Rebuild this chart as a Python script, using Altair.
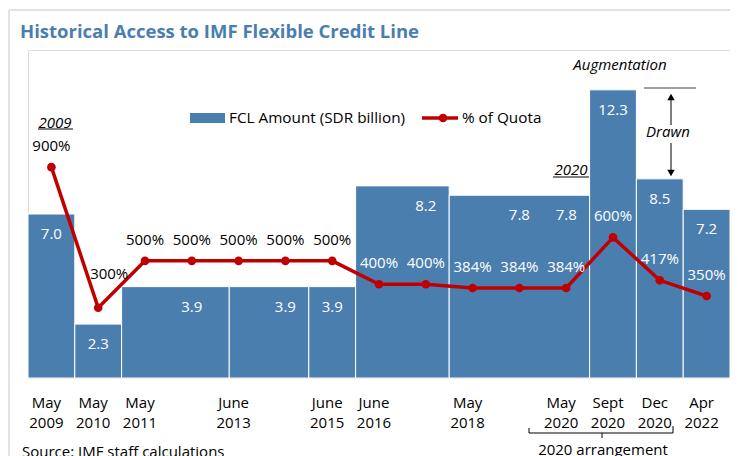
import altair as alt
import pandas as pd

# ---------------- data ----------------
bar_start = [-0.5, 0.5, 1.5, 3.8, 5.5, 6.5, 8.5, 11.5, 12.5, 13.5]
bar_end = [0.5, 1.5, 3.8, 5.5, 6.5, 8.5, 11.5, 12.5, 13.5, 14.5]
bar_amount = [7.0, 2.3, 3.9, 3.9, 3.9, 8.2, 7.8, 12.3, 8.5, 7.2]

amt_label_slot = [0, 1, 3, 5, 6, 8, 10, 11, 12, 13, 14]
amt_label_value = [7.0, 2.3, 3.9, 3.9, 3.9, 8.2, 7.8, 7.8, 12.3, 8.5, 7.2]

quota_slot = list(range(15))
quota_pct = [900, 300, 500, 500, 500, 500, 500, 400, 400, 384, 384, 384, 600, 417, 350]

x_label_slots = [0, 1, 2, 4, 6, 7, 9, 11, 12, 13, 14]
x_labels = ["May\n2009", "May\n2010", "May\n2011", "June\n2013", "June\n2015",
            "June\n2016", "May\n2018", "May\n2020", "Sept\n2020", "Dec\n2020", "Apr\n2022"]

FONT = "Open Sans"
BLUE = "#4A7EAF"
RED = "#C00000"

bars = pd.DataFrame({"start": bar_start, "end": bar_end, "amount": bar_amount})
amt_labels = pd.DataFrame({"slot": amt_label_slot, "amount": amt_label_value})


def amount_at(s):
    for a, b, v in zip(bar_start, bar_end, bar_amount):
        if a <= s < b:
            return v
    return 0


quota = pd.DataFrame({"slot": quota_slot, "pct": quota_pct})
quota["val"] = quota["pct"] / 100
quota["label"] = quota["pct"].astype(str) + "%"
quota["inside"] = [(p / 100 + 0.9) < amount_at(s) for s, p in zip(quota_slot, quota_pct)]
quota["special"] = quota["pct"].eq(300) & quota["slot"].eq(1)

xlab = pd.DataFrame({"slot": x_label_slots, "label": x_labels})

xs = alt.Scale(domain=[-0.5, 14.5], nice=False, zero=False)
ys = alt.Scale(domain=[0, 14], nice=False)

bar_layer = alt.Chart(bars).mark_rect(color=BLUE, stroke="white", strokeWidth=1).encode(
    x=alt.X("start:Q", scale=xs, axis=None),
    x2="end:Q",
    y=alt.Y("amount:Q", scale=ys, axis=None),
    y2=alt.datum(0),
)

bar_text = alt.Chart(amt_labels).mark_text(
    font=FONT, fontSize=15, color="white", dy=20, baseline="middle"
).encode(
    x=alt.X("slot:Q", scale=xs, axis=None),
    y=alt.Y("amount:Q", scale=ys, axis=None),
    text=alt.Text("amount:Q", format=".1f"),
)

line_layer = alt.Chart(quota).mark_line(color=RED, strokeWidth=3.5).encode(
    x=alt.X("slot:Q", scale=xs, axis=None),
    y=alt.Y("val:Q", scale=ys, axis=None),
)
point_layer = alt.Chart(quota).mark_circle(color=RED, opacity=1, size=75).encode(
    x=alt.X("slot:Q", scale=xs, axis=None),
    y=alt.Y("val:Q", scale=ys, axis=None),
)

q_text = alt.Chart(quota).transform_filter("!datum.special").mark_text(
    font=FONT, fontSize=15, dy=-21, baseline="middle"
).encode(
    x=alt.X("slot:Q", scale=xs, axis=None),
    y=alt.Y("val:Q", scale=ys, axis=None),
    text="label:N",
    color=alt.Color("inside:N", scale=alt.Scale(domain=[True, False], range=["white", "black"]), legend=None),
)
q_text_special = alt.Chart(quota).transform_filter("datum.special").mark_text(
    font=FONT, fontSize=15, dy=-34, dx=11, baseline="middle", color="black"
).encode(
    x=alt.X("slot:Q", scale=xs, axis=None),
    y=alt.Y("val:Q", scale=ys, axis=None),
    text="label:N",
)

x_text = alt.Chart(xlab).mark_text(
    font=FONT, fontSize=15, lineBreak="\n", lineHeight=20, baseline="middle", dx=-5, color="black"
).encode(
    x=alt.X("slot:Q", scale=xs, axis=None),
    y=alt.value(353),
    text="label:N",
)

# ---------------- decorations (pixel positions) ----------------
one = pd.DataFrame({"a": [0]})


def txt(t, x, y, **kw):
    params = dict(font=FONT, fontSize=15, baseline="middle", align="center", color="black")
    params.update(kw)
    return alt.Chart(one).mark_text(text=t, **params).encode(x=alt.value(x), y=alt.value(y))


def rule(x, x2, y, y2, color="black", w=1.0):
    return alt.Chart(one).mark_rule(color=color, strokeWidth=w).encode(
        x=alt.value(x), x2=alt.value(x2), y=alt.value(y), y2=alt.value(y2)
    )


def tri(x, y, shape):
    return alt.Chart(one).mark_point(shape=shape, filled=True, color="black", size=55, opacity=1).encode(
        x=alt.value(x), y=alt.value(y)
    )


deco = [
    rule(-19, -19, -40, 420, color="#D9D9D9", w=1.5),
    rule(-19, 720, -40, -40, color="#D9D9D9", w=1.5),
    txt("Historical Access to IMF Flexible Credit Line", -8, -18, align="left",
        fontWeight="bold", fontSize=18.5, color=BLUE),
    # legend
    alt.Chart(one).mark_rect(color=BLUE).encode(
        x=alt.value(162), x2=alt.value(197), y=alt.value(63), y2=alt.value(73)),
    txt("FCL Amount (SDR billion)", 201, 68, align="left", fontSize=15.3),
    rule(394, 430, 68, 68, color=RED, w=3.5),
    alt.Chart(one).mark_circle(color=RED, opacity=1, size=75).encode(x=alt.value(415), y=alt.value(68)),
    txt("% of Quota", 434, 68, align="left", fontSize=15.3),
    # 2009 / 2020 annotations
    txt("2009", 27, 73, fontStyle="italic"),
    rule(10, 45, 79, 79, w=1),
    txt("2020", 543, 120, fontStyle="italic"),
    rule(525, 561, 127, 127, w=1),
    # augmentation / drawn
    txt("Augmentation", 592, 15, fontStyle="italic"),
    rule(616, 668, 38, 38, color="#7F7F7F", w=1.5),
    rule(643, 643, 50, 75, w=1),
    tri(643, 47, "triangle-up"),
    txt("Drawn", 640, 82, fontStyle="italic"),
    rule(643, 643, 93, 120, w=1),
    tri(643, 123, "triangle-down"),
    # bracket
    rule(501, 645, 383, 383, w=1),
    rule(501, 501, 378, 383, w=1),
    rule(645, 645, 376, 383, w=1),
    rule(574, 574, 383, 388, w=1),
    txt("2020 arrangement", 575, 400),
    txt("Source: IMF staff calculations", -6, 402, align="left"),
]

chart = alt.layer(
    bar_layer, bar_text, line_layer, point_layer, q_text, q_text_special, x_text, *deco
).properties(
    width=702,
    height=328,
    autosize=alt.AutoSizeParams(type="none"),
    padding={"left": 20, "top": 42, "right": 0, "bottom": 90},
).configure_view(stroke=None).configure(background="white")

chart.save("out.html", embed_options={"renderer": "svg", "actions": False})
